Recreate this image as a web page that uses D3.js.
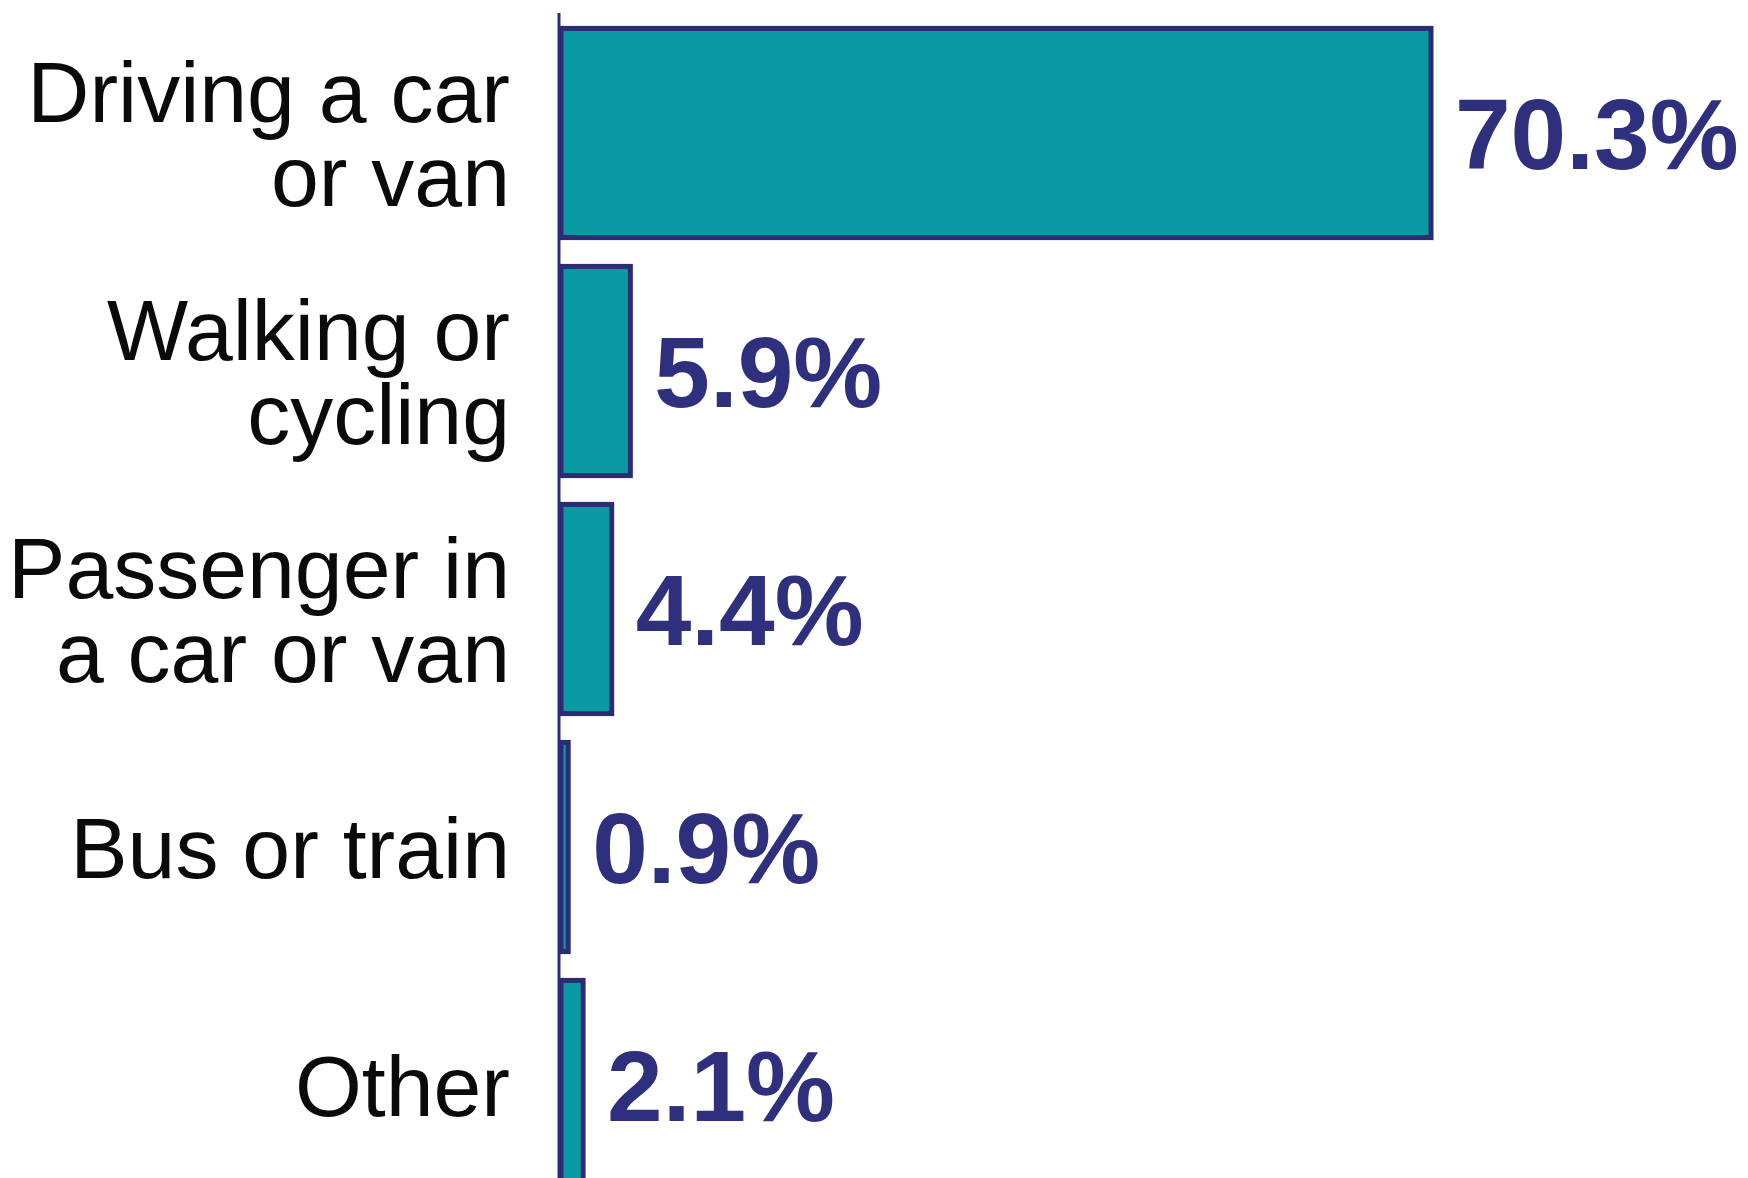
<!DOCTYPE html>
<html>
<head>
<meta charset="utf-8">
<script src="https://cdn.jsdelivr.net/npm/d3@7"></script>
<style>
  html, body { margin: 0; padding: 0; background: #ffffff; overflow: hidden; }
  svg { display: block; }
</style>
</head>
<body>
<svg id="chart" width="1748" height="1178"></svg>
<script>
const categories = ["Driving a car or van", "Walking or cycling", "Passenger in a car or van", "Bus or train", "Other"];
const categoryLines = [["Driving a car", "or van"], ["Walking or", "cycling"], ["Passenger in", "a car or van"], ["Bus or train"], ["Other"]];
const values = [70.3, 5.9, 4.4, 0.9, 2.1];
const valueLabels = ["70.3%", "5.9%", "4.4%", "0.9%", "2.1%"];

const W = 1748, H = 1178;
const axisX = 559;
const svg = d3.select("#chart");

const x = d3.scaleLinear().domain([0, 70.3]).range([axisX, 1433]);
const y = d3.scaleBand().domain(categories).range([14, 1204]).paddingInner(0.1).paddingOuter(0.05);

const fill = "#0a9aa3";
const navy = "#2c2b74";
const labelNavy = "#2e2f7d";
const font = "'Liberation Sans', Arial, Helvetica, sans-serif";

// bars
svg.append("g").selectAll("rect")
  .data(categories)
  .join("rect")
  .attr("x", d => x(0) + 2)
  .attr("y", d => y(d) + 2.5)
  .attr("width", (d, i) => Math.max(0, x(values[i]) - x(0) - 4))
  .attr("height", y.bandwidth() - 5)
  .attr("fill", fill)
  .attr("stroke", navy)
  .attr("stroke-width", 5);

// axis line
svg.append("line")
  .attr("x1", axisX).attr("x2", axisX)
  .attr("y1", 13).attr("y2", H)
  .attr("stroke", navy)
  .attr("stroke-width", 3);

// category labels
const fs = 86;
const lineH = 84;
const labX = 510;
const lab = svg.append("g").attr("font-family", font).attr("font-size", fs).attr("fill", "#0a0a0a").attr("text-anchor", "end");
categories.forEach((c, i) => {
  const lines = categoryLines[i];
  const cy = y(c) + y.bandwidth() / 2;
  const t = lab.append("text").attr("x", labX).attr("y", cy);
  lines.forEach((ln, j) => {
    const off = (j - (lines.length - 1) / 2) * lineH + 0.36 * fs;
    t.append("tspan").attr("x", labX).attr("y", cy + off).text(ln);
  });
});

// value labels
svg.append("g").selectAll("text")
  .data(categories)
  .join("text")
  .attr("x", (d, i) => x(values[i]) + 22)
  .attr("y", d => y(d) + y.bandwidth() / 2)
  .attr("dy", "0.36em")
  .attr("font-family", font)
  .attr("font-weight", "bold")
  .attr("font-size", 100)
  .attr("fill", labelNavy)
  .text((d, i) => valueLabels[i]);
</script>
</body>
</html>
